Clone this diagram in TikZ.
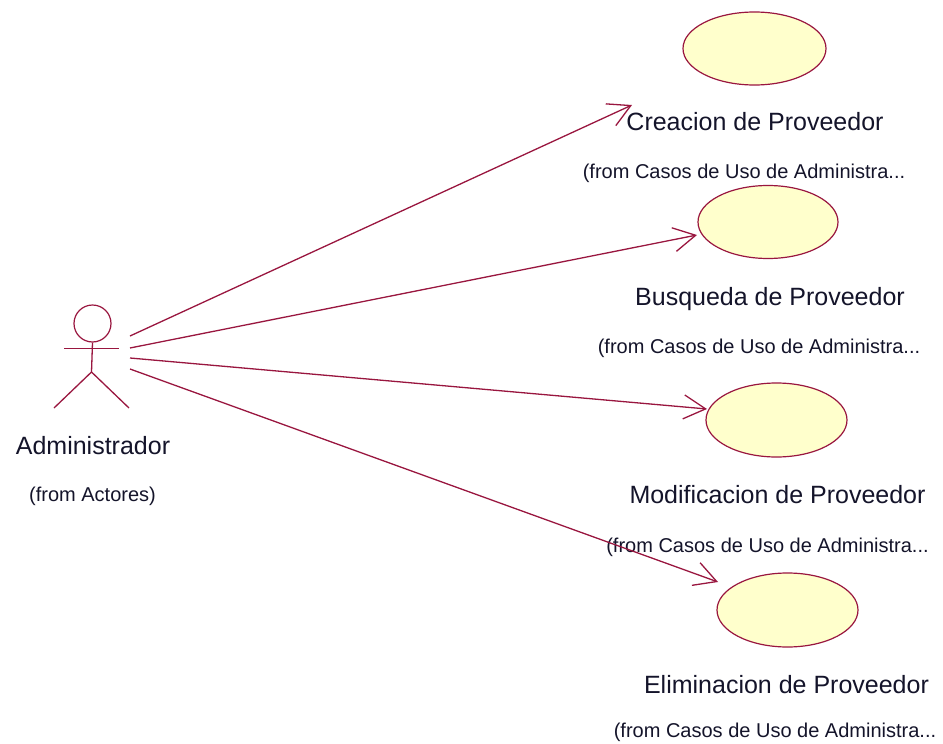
\documentclass[tikz,border=0pt]{standalone}
\usepackage{fontspec}
\setmainfont{Liberation Sans}
\usetikzlibrary{arrows.meta,shapes.geometric}
\definecolor{umlred}{HTML}{99163F}
\definecolor{ucfill}{HTML}{FFFFCC}
\definecolor{txt}{HTML}{14142A}
\begin{document}
\begin{tikzpicture}[x=1pt,y=-1pt,
  uc/.style={ellipse, draw=umlred, fill=ucfill, line width=1.2pt, inner sep=0pt},
  bigtxt/.style={anchor=base, text=txt, inner sep=0pt, font=\fontsize{25}{30}\selectfont},
  smalltxt/.style={anchor=base, text=txt, inner sep=0pt, font=\fontsize{20}{24}\selectfont},
  assoc/.style={draw=umlred, line width=1.3pt, -{Straight Barb[length=22pt,width=24pt,line width=1.3pt]}},
  actorline/.style={draw=umlred, line width=1.3pt}
]
\useasboundingbox (0,0) rectangle (943,744);
% use cases
\node[uc, minimum width=143pt, minimum height=73pt] (uc1) at (754.5,48.5) {};
\node[uc, minimum width=140pt, minimum height=73pt] (uc2) at (768,222) {};
\node[uc, minimum width=141pt, minimum height=74pt] (uc3) at (776.5,420) {};
\node[uc, minimum width=141pt, minimum height=74pt] (uc4) at (787.5,610) {};
\node[bigtxt] (l1) at (755,130) {Creacion de Proveedor};
\node[smalltxt] (f1) at (744,178) {(from Casos de Uso de Administra...};
\node[bigtxt] (l2) at (770,305) {Busqueda de Proveedor};
\node[smalltxt] (f2) at (759,353) {(from Casos de Uso de Administra...};
\node[bigtxt] (l3) at (777.5,503) {Modificacion de Proveedor};
\node[smalltxt] (f3) at (767.5,552) {(from Casos de Uso de Administra...};
\node[bigtxt] (l4) at (786.5,693) {Eliminacion de Proveedor};
\node[smalltxt] (f4) at (775,737) {(from Casos de Uso de Administra...};
% actor
\node[circle, draw=umlred, line width=1.2pt, minimum size=37pt, inner sep=0pt] (head) at (92.5,323.5) {};
\coordinate (hip) at (91.5,372);
\coordinate (armL) at (64,348.5);
\coordinate (armR) at (119,348.5);
\coordinate (footL) at (54,408);
\coordinate (footR) at (129,408);
\draw[actorline] (head.south) -- (hip);
\draw[actorline] (armL) -- (armR);
\draw[actorline] (footL) -- (hip) -- (footR);
\node[bigtxt] (actor) at (93,454) {Administrador};
\node[smalltxt] (fa) at (92.5,501) {(from Actores)};
% connector ends
\coordinate (s1) at (130,336);
\coordinate (s2) at (130,348);
\coordinate (s3) at (130,358);
\coordinate (s4) at (130,369);
\coordinate (t1) at (632,105);
\coordinate (t2) at (697,235);
\coordinate (t3) at (707,409);
\coordinate (t4) at (718,582);
\draw[assoc] (s1) -- (t1);
\draw[assoc] (s2) -- (t2);
\draw[assoc] (s3) -- (t3);
\draw[assoc] (s4) -- (t4);
\end{tikzpicture}
\end{document}
